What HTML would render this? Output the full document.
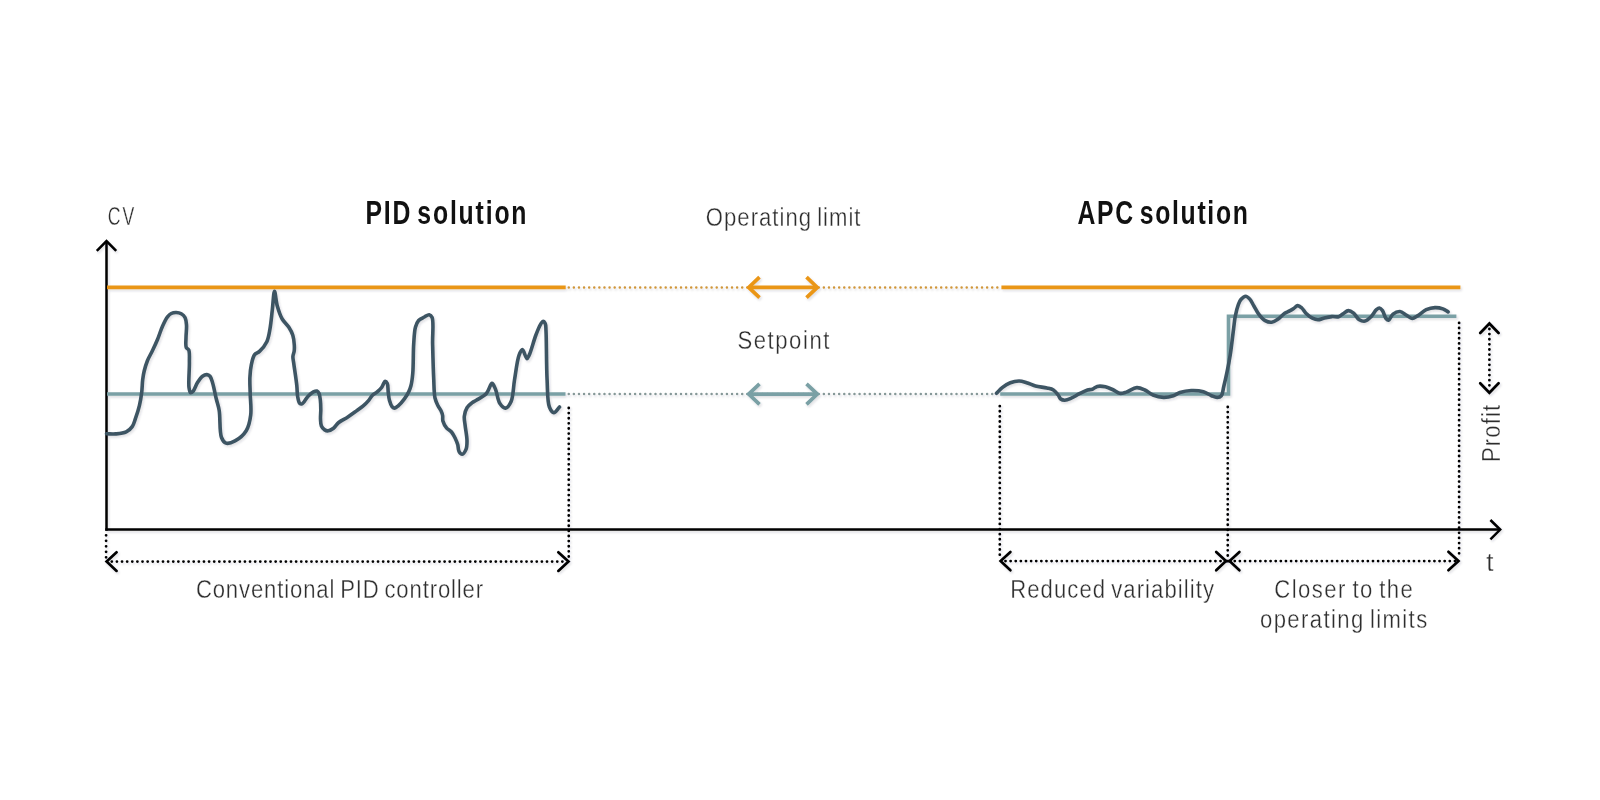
<!DOCTYPE html>
<html><head><meta charset="utf-8"><title>PID vs APC</title>
<style>html,body{margin:0;padding:0;background:#fff;width:1600px;height:800px;overflow:hidden}svg{display:block}</style>
</head><body>
<svg width="1600" height="800" viewBox="0 0 1600 800">
<rect width="1600" height="800" fill="#fff"/>
<defs><filter id="idf" x="0" y="0" width="100%" height="100%"><feOffset dx="0" dy="0"/></filter><filter id="sh" x="-5%" y="-20%" width="110%" height="140%"><feDropShadow dx="1.2" dy="1.6" stdDeviation="1.1" flood-color="#203040" flood-opacity="0.16"/></filter></defs>
<g filter="url(#sh)"><g stroke="#000" stroke-width="2.5" fill="none" stroke-linecap="butt" stroke-linejoin="miter"><line x1="106.5" y1="241" x2="106.5" y2="530.7"/><polyline points="96.8,250.8 106.5,241 116.2,250.8"/><line x1="105.3" y1="529.6" x2="1500" y2="529.6"/><polyline points="1490.4,520 1500.2,529.6 1490.4,539.4"/></g><line x1="107" y1="287.4" x2="565.7" y2="287.4" stroke="#EA9618" stroke-width="3.6"/><line x1="568.75" y1="287.4" x2="998" y2="287.4" stroke="#D0963A" stroke-width="2.5" stroke-linecap="round" stroke-dasharray="0 5.102"/><line x1="1001.4" y1="287.4" x2="1460.4" y2="287.4" stroke="#EA9618" stroke-width="3.6"/><line x1="107" y1="394" x2="565.5" y2="394" stroke="#7AA0A5" stroke-width="3.6"/><line x1="568.75" y1="394" x2="995" y2="394" stroke="#869898" stroke-width="2.5" stroke-linecap="round" stroke-dasharray="0 5.102"/><polyline points="1000.2,394 1228.5,394 1228.5,316.3 1456.4,316.3" fill="none" stroke="#7AA0A5" stroke-width="3.6"/><g stroke="#EA9618" stroke-width="3.7" fill="none" stroke-linejoin="miter"><line x1="749" y1="287.4" x2="817" y2="287.4"/><polyline points="759.5,277.09999999999997 748.7,287.4 759.5,297.7"/><polyline points="806.5,277.09999999999997 817.3,287.4 806.5,297.7"/></g><g stroke="#7AA0A5" stroke-width="3.7" fill="none" stroke-linejoin="miter"><line x1="749" y1="394.1" x2="817" y2="394.1"/><polyline points="759.5,383.8 748.7,394.1 759.5,404.40000000000003"/><polyline points="806.5,383.8 817.3,394.1 806.5,404.40000000000003"/></g><path d="M106.50 433.80 C109.57 433.83 112.55 434.18 115.70 433.90 C119.10 433.60 123.34 433.30 126.20 431.90 C128.68 430.69 130.68 428.75 132.20 426.60 C133.77 424.38 134.34 421.69 135.40 418.70 C136.74 414.91 138.35 410.00 139.40 405.60 C140.44 401.26 141.15 396.88 141.70 392.50 C142.25 388.15 142.21 383.27 142.70 379.40 C143.10 376.28 143.48 373.93 144.20 371.00 C145.02 367.67 146.12 363.90 147.50 360.50 C148.89 357.07 150.86 353.93 152.50 350.50 C154.20 346.94 155.89 343.36 157.50 339.50 C159.24 335.32 160.69 330.23 162.50 326.25 C164.06 322.81 165.75 319.14 167.50 316.90 C168.71 315.35 169.80 314.23 171.25 313.50 C172.71 312.76 174.59 312.46 176.25 312.50 C177.92 312.54 179.80 312.93 181.25 313.75 C182.72 314.58 184.13 315.87 185.00 317.50 C186.05 319.45 186.28 322.17 186.50 325.00 C186.79 328.62 186.03 333.57 186.00 337.50 C185.97 341.02 185.34 345.38 186.25 347.50 C186.79 348.76 188.17 348.69 188.75 350.00 C189.85 352.47 189.31 357.62 189.40 362.50 C189.52 369.40 188.27 382.30 189.00 387.50 C189.34 389.94 189.71 392.41 190.60 392.75 C191.25 393.00 192.28 392.14 193.10 391.25 C194.61 389.63 195.84 385.10 197.50 382.50 C199.00 380.15 200.69 377.56 202.50 376.25 C203.88 375.25 205.58 374.51 206.90 374.60 C208.04 374.67 209.15 375.30 210.00 376.25 C211.18 377.57 211.68 379.89 212.50 382.50 C213.79 386.61 215.05 393.78 216.25 398.75 C217.27 402.99 218.41 405.74 219.20 410.50 C220.39 417.62 219.32 432.05 221.50 437.50 C222.62 440.31 223.97 442.41 226.00 443.10 C228.31 443.88 232.04 442.48 235.00 440.90 C238.79 438.88 243.59 434.90 246.20 430.70 C248.91 426.33 249.97 420.70 250.70 415.00 C251.54 408.48 250.34 400.24 250.20 393.60 C250.08 387.82 249.65 382.50 249.90 377.40 C250.12 372.82 250.52 368.38 251.40 364.40 C252.17 360.89 252.92 356.92 254.60 354.70 C255.88 353.01 257.84 352.97 259.50 351.40 C261.88 349.14 265.06 345.37 266.80 341.70 C268.63 337.85 269.13 333.45 270.00 328.70 C271.04 323.06 271.55 316.23 272.30 310.00 C273.05 303.79 273.60 291.43 274.50 291.40 C275.30 291.37 275.98 301.33 277.30 306.00 C278.57 310.52 280.09 315.33 282.20 319.00 C284.02 322.16 286.90 324.21 288.70 327.00 C290.40 329.63 291.87 332.27 292.80 335.20 C293.77 338.25 294.11 342.12 294.30 345.00 C294.45 347.24 294.44 349.06 294.20 351.00 C293.96 352.89 293.01 354.58 292.90 356.50 C292.79 358.57 293.33 360.18 293.70 363.00 C294.38 368.25 296.15 379.37 296.80 385.50 C297.25 389.71 297.04 393.04 297.60 396.20 C298.06 398.81 298.49 402.09 299.60 403.20 C300.25 403.85 301.12 404.18 302.00 403.90 C303.74 403.35 306.02 398.30 308.10 396.20 C309.83 394.45 311.73 392.74 313.40 391.90 C314.62 391.29 315.94 390.69 316.90 391.00 C317.83 391.30 318.54 392.43 319.10 393.60 C319.90 395.29 320.12 398.12 320.40 400.60 C320.72 403.36 320.78 406.40 320.80 409.40 C320.82 412.53 320.36 416.06 320.50 419.00 C320.62 421.52 320.56 424.10 321.40 426.00 C322.11 427.61 323.44 429.11 324.70 429.90 C325.76 430.56 326.94 430.93 328.20 430.80 C329.81 430.63 331.85 429.44 333.50 428.20 C335.39 426.78 336.59 424.23 338.70 422.50 C341.13 420.51 344.61 419.08 347.50 417.20 C350.44 415.29 353.47 413.07 356.20 411.10 C358.67 409.32 361.09 407.72 363.20 405.90 C365.16 404.21 366.97 402.38 368.50 400.60 C369.86 399.01 370.59 397.23 372.00 395.80 C373.47 394.31 375.59 393.30 377.20 391.90 C378.78 390.53 380.53 388.97 381.60 387.50 C382.45 386.33 382.78 385.07 383.40 384.00 C383.95 383.05 384.45 381.47 385.10 381.40 C385.75 381.33 386.78 382.50 387.30 383.60 C388.16 385.39 387.84 389.10 388.20 391.90 C388.57 394.77 388.76 398.00 389.50 400.60 C390.14 402.86 390.97 405.47 392.10 406.70 C392.85 407.52 393.78 408.13 394.70 408.10 C395.79 408.06 396.95 406.96 398.20 405.90 C400.08 404.31 402.61 401.31 404.40 398.90 C406.08 396.64 407.58 394.24 408.70 391.90 C409.72 389.77 410.37 388.03 411.00 385.50 C411.86 382.02 412.36 377.91 412.80 372.80 C413.46 365.12 413.12 352.15 413.70 343.80 C414.14 337.43 414.31 331.22 415.50 327.00 C416.28 324.25 417.08 322.18 418.60 320.50 C420.07 318.87 422.53 318.01 424.40 317.00 C426.05 316.11 427.86 314.48 429.20 314.70 C430.36 314.89 431.39 315.86 432.10 317.50 C433.92 321.68 432.36 334.42 432.60 343.80 C432.87 354.59 433.21 368.69 433.70 378.60 C434.07 386.01 433.91 393.04 435.00 398.00 C435.72 401.25 436.90 403.56 438.00 405.80 C438.90 407.64 440.13 408.95 440.90 410.60 C441.64 412.19 442.26 413.79 442.60 415.50 C442.95 417.26 442.37 419.11 442.90 421.00 C443.54 423.28 445.14 426.20 446.70 428.10 C448.07 429.76 450.11 430.37 451.50 432.00 C453.06 433.82 454.33 436.51 455.40 438.70 C456.36 440.67 457.11 442.46 457.70 444.50 C458.33 446.65 458.05 449.62 459.00 451.30 C459.75 452.63 461.13 454.29 462.20 454.20 C463.47 454.10 465.18 451.38 466.00 449.40 C466.98 447.04 467.01 444.01 467.00 440.70 C466.98 436.27 465.57 429.64 465.10 425.20 C464.74 421.86 463.99 419.30 464.30 416.40 C464.61 413.46 465.57 410.03 467.00 407.70 C468.24 405.67 470.23 404.18 471.90 402.90 C473.34 401.80 474.55 401.40 476.30 400.30 C479.00 398.60 483.77 396.37 486.40 393.50 C488.96 390.71 490.34 383.43 492.00 383.40 C493.25 383.38 494.33 386.61 495.40 389.00 C497.04 392.65 497.67 400.32 499.90 403.60 C501.43 405.85 503.72 408.28 505.50 408.10 C507.47 407.90 509.68 404.52 511.10 401.40 C513.34 396.48 513.24 387.38 514.50 380.00 C515.85 372.05 517.03 360.54 519.00 355.30 C520.01 352.61 521.23 349.56 522.40 349.60 C523.84 349.65 525.60 358.52 526.90 358.60 C527.71 358.65 528.29 356.95 529.10 355.30 C530.97 351.48 533.75 340.61 535.90 335.00 C537.46 330.92 538.94 327.01 540.40 324.60 C541.28 323.15 542.14 321.44 543.00 321.40 C543.77 321.37 544.78 322.67 545.30 323.80 C546.07 325.47 545.79 327.52 546.00 331.00 C546.54 340.05 546.35 366.09 547.10 380.00 C547.66 390.34 547.22 401.55 549.40 407.00 C550.52 409.81 552.26 412.51 553.90 412.60 C555.62 412.69 557.63 408.87 559.50 407.00" fill="none" stroke="#3E5464" stroke-width="3.6" stroke-linecap="round" stroke-linejoin="round"/><path d="M996.50 393.30 C998.40 391.40 1000.02 389.31 1002.20 387.60 C1004.57 385.75 1007.43 383.80 1010.30 382.70 C1013.11 381.62 1016.38 380.95 1019.20 381.00 C1021.79 381.05 1024.05 381.94 1026.60 382.70 C1029.46 383.55 1032.31 385.14 1035.50 386.00 C1039.02 386.95 1043.65 387.22 1046.90 388.00 C1049.39 388.60 1051.52 388.84 1053.40 390.00 C1055.30 391.17 1056.92 393.36 1058.20 395.00 C1059.25 396.35 1059.57 398.13 1060.70 399.00 C1061.77 399.81 1063.21 400.21 1064.70 400.20 C1066.61 400.19 1068.96 399.15 1071.20 398.20 C1073.83 397.09 1076.65 395.08 1079.40 393.70 C1082.08 392.35 1085.09 390.73 1087.50 390.00 C1089.30 389.45 1090.83 389.77 1092.40 389.20 C1094.07 388.60 1095.31 386.86 1097.20 386.40 C1099.50 385.84 1102.72 386.22 1105.40 386.80 C1108.16 387.40 1111.01 388.85 1113.50 390.00 C1115.74 391.03 1117.55 392.97 1119.70 393.30 C1121.79 393.62 1123.81 392.82 1126.20 392.10 C1129.35 391.15 1133.47 387.79 1136.80 387.60 C1139.65 387.44 1142.28 388.83 1144.90 390.00 C1147.69 391.25 1150.01 393.78 1153.00 395.00 C1156.20 396.31 1160.13 397.31 1163.60 397.40 C1166.92 397.48 1170.53 396.64 1173.40 395.70 C1175.85 394.90 1177.37 393.33 1179.90 392.50 C1183.09 391.46 1187.35 390.65 1191.20 390.50 C1195.18 390.35 1199.83 390.68 1203.40 391.70 C1206.47 392.58 1209.00 394.72 1211.50 395.70 C1213.53 396.50 1215.47 397.49 1217.20 397.40 C1218.69 397.32 1220.27 396.88 1221.30 395.70 C1222.79 394.00 1222.87 390.14 1223.70 386.80 C1224.75 382.54 1225.95 377.28 1227.00 372.20 C1228.13 366.71 1229.20 361.36 1230.20 355.00 C1231.43 347.18 1232.67 335.79 1233.60 328.70 C1234.23 323.89 1234.41 320.62 1235.20 316.60 C1236.00 312.52 1237.22 307.51 1238.40 304.40 C1239.18 302.35 1239.71 300.86 1240.90 299.50 C1242.12 298.11 1244.17 296.19 1245.70 296.20 C1247.12 296.21 1248.56 297.76 1249.80 299.10 C1251.37 300.80 1252.48 303.61 1253.90 306.00 C1255.44 308.59 1256.80 311.66 1258.70 314.10 C1260.58 316.52 1262.83 319.27 1265.20 320.60 C1267.22 321.74 1269.57 322.43 1271.70 322.20 C1273.91 321.96 1276.12 320.39 1278.20 319.00 C1280.47 317.48 1282.60 314.70 1284.70 313.30 C1286.37 312.19 1288.06 311.75 1289.60 310.90 C1291.05 310.11 1292.36 309.28 1293.70 308.40 C1295.06 307.51 1296.34 305.66 1297.70 305.60 C1299.04 305.55 1300.53 306.89 1301.80 308.00 C1303.31 309.32 1304.25 311.67 1305.90 313.30 C1307.72 315.10 1310.21 317.11 1312.40 318.20 C1314.25 319.12 1316.12 319.80 1318.00 319.80 C1319.89 319.80 1321.62 318.69 1323.70 318.20 C1326.17 317.61 1329.28 316.83 1331.90 316.60 C1334.26 316.39 1336.76 317.28 1338.70 316.70 C1340.42 316.18 1341.55 314.68 1343.10 313.70 C1344.77 312.65 1346.63 310.66 1348.40 310.60 C1350.13 310.54 1351.98 311.93 1353.60 313.20 C1355.52 314.70 1356.85 318.09 1358.90 319.40 C1360.71 320.55 1363.05 321.45 1365.00 321.10 C1367.13 320.72 1369.26 318.50 1371.10 316.70 C1373.09 314.76 1374.74 311.15 1376.40 309.70 C1377.44 308.79 1378.42 307.91 1379.40 308.00 C1380.46 308.10 1381.56 309.35 1382.50 310.60 C1383.87 312.42 1384.66 316.92 1386.00 318.50 C1386.80 319.45 1387.70 320.37 1388.60 320.20 C1389.99 319.94 1391.09 315.55 1393.00 314.10 C1394.90 312.65 1397.79 311.32 1400.00 311.50 C1402.15 311.68 1404.07 313.83 1406.10 315.00 C1408.13 316.17 1410.22 318.44 1412.20 318.50 C1414.01 318.56 1415.57 317.05 1417.50 315.90 C1420.10 314.35 1423.15 311.09 1426.20 309.70 C1429.01 308.42 1432.14 307.70 1435.00 307.60 C1437.69 307.50 1440.61 308.08 1442.90 308.90 C1444.89 309.61 1446.37 310.90 1448.10 311.90" fill="none" stroke="#3E5464" stroke-width="3.6" stroke-linecap="round" stroke-linejoin="round"/><line x1="568.75" y1="408" x2="568.75" y2="558" stroke="#000" stroke-width="2.8" stroke-linecap="round" stroke-dasharray="0 5.12"/><line x1="106.1" y1="535.3" x2="106.1" y2="558" stroke="#000" stroke-width="2.8" stroke-linecap="round" stroke-dasharray="0 5.5"/><line x1="999.8" y1="406.15" x2="999.8" y2="558" stroke="#000" stroke-width="2.8" stroke-linecap="round" stroke-dasharray="0 5.12"/><line x1="1227.75" y1="407" x2="1227.75" y2="556" stroke="#000" stroke-width="2.8" stroke-linecap="round" stroke-dasharray="0 5.12"/><line x1="1459.1" y1="322.9" x2="1459.1" y2="558" stroke="#000" stroke-width="2.8" stroke-linecap="round" stroke-dasharray="0 5.12"/><line x1="111.8" y1="561.6" x2="566" y2="561.6" stroke="#000" stroke-width="2.8" stroke-linecap="round" stroke-dasharray="0 5.12"/><line x1="1005.5" y1="561.1" x2="1224" y2="561.1" stroke="#000" stroke-width="2.8" stroke-linecap="round" stroke-dasharray="0 5.12"/><line x1="1234.75" y1="561.1" x2="1456" y2="561.1" stroke="#000" stroke-width="2.8" stroke-linecap="round" stroke-dasharray="0 5.12"/><g stroke="#000" stroke-width="2.7" fill="none" stroke-linecap="round"><polyline points="116.6,552.3 106.6,561.6 116.6,570.9"/><polyline points="558.3,552.3 568.5,561.6 558.3,570.9"/><polyline points="1010.4,551.9 1000.6,561.1 1010.4,570.3"/><polyline points="1216.2,551.9 1226,561.1 1216.2,570.3"/><polyline points="1239.4,551.9 1229.6,561.1 1239.4,570.3"/><line x1="1225" y1="561.1" x2="1230.5" y2="561.1"/><polyline points="1448.4,551.8 1458.5,561 1448.4,570.2"/><polyline points="1480.2,333 1489.4,323.5 1498.6,333"/><polyline points="1480.2,383.3 1489.4,392.8 1498.6,383.3"/></g><line x1="1489.4" y1="329" x2="1489.4" y2="389" stroke="#000" stroke-width="2.8" stroke-linecap="round" stroke-dasharray="0 5.12"/></g>
<g font-family='"Liberation Sans", sans-serif' filter="url(#idf)">
<text x="0" y="0" font-size="26" fill="#2d2d2d" stroke="#fff" stroke-width="0.35" word-spacing="-2.5" textLength="38.971" lengthAdjust="spacing" transform="translate(107.700 225) scale(0.68 1)">CV</text><text x="0" y="0" font-size="33.5" fill="#111" font-weight="bold" word-spacing="-5" textLength="217.568" lengthAdjust="spacing" transform="translate(365.500 224) scale(0.74 1)">PID solution</text><text x="0" y="0" font-size="26" fill="#2d2d2d" stroke="#fff" stroke-width="0.35" word-spacing="-2.5" textLength="182.000" lengthAdjust="spacing" transform="translate(705.800 226) scale(0.85 1)">Operating limit</text><text x="0" y="0" font-size="26" fill="#2d2d2d" stroke="#fff" stroke-width="0.35" word-spacing="-2.5" textLength="108.235" lengthAdjust="spacing" transform="translate(737.400 349) scale(0.85 1)">Setpoint</text><text x="0" y="0" font-size="33.5" fill="#111" font-weight="bold" word-spacing="-5" textLength="230.270" lengthAdjust="spacing" transform="translate(1077.500 224) scale(0.74 1)">APC solution</text><text x="0" y="0" font-size="26" fill="#2d2d2d" stroke="#fff" stroke-width="0.35" word-spacing="-2.5" textLength="337.882" lengthAdjust="spacing" transform="translate(195.900 597.7) scale(0.85 1)">Conventional PID controller</text><text x="0" y="0" font-size="26" fill="#2d2d2d" stroke="#fff" stroke-width="0.35" word-spacing="-2.5" textLength="239.765" lengthAdjust="spacing" transform="translate(1010.200 597.5) scale(0.85 1)">Reduced variability</text><text x="0" y="0" font-size="26" fill="#2d2d2d" stroke="#fff" stroke-width="0.35" word-spacing="-2.5" textLength="163.059" lengthAdjust="spacing" transform="translate(1274.300 597.8) scale(0.85 1)">Closer to the</text><text x="0" y="0" font-size="26" fill="#2d2d2d" stroke="#fff" stroke-width="0.35" word-spacing="-2.5" textLength="196.706" lengthAdjust="spacing" transform="translate(1260.000 628.2) scale(0.85 1)">operating limits</text><text x="0" y="0" font-size="26" fill="#2d2d2d" stroke="#fff" stroke-width="0.3" transform="translate(1486.300 570.9) scale(1.0 1)">t</text><text x="0" y="0" font-size="26" fill="#2d2d2d" stroke="#fff" stroke-width="0.35" word-spacing="-2.5" textLength="67.412" lengthAdjust="spacing" transform="translate(1500.2 462.100) rotate(-90) scale(0.85 1)">Profit</text>
</g>
</svg>
</body></html>
